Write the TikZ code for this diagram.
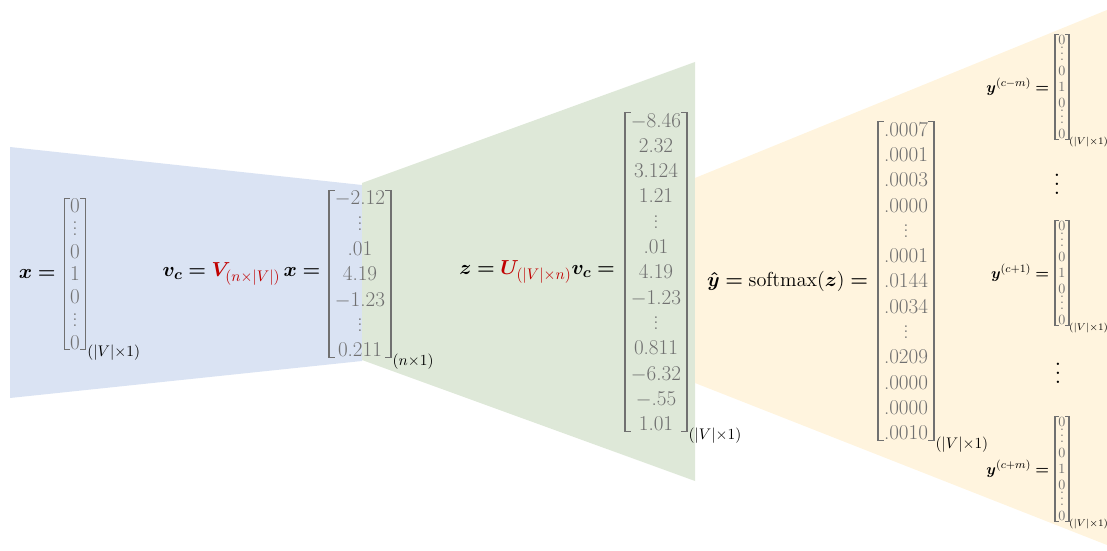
\documentclass[tikz,border=0pt]{standalone}
\usepackage{amsmath}
\usepackage{bm}
\usepackage{graphicx}
\usetikzlibrary{positioning, calc}
\definecolor{inputcolor}{RGB}{218,227,243}
\definecolor{hiddencolor}{RGB}{222,232,216}
\definecolor{outputcolor}{RGB}{255,244,222}
\definecolor{numgray}{RGB}{112,112,112}
\definecolor{weightred}{RGB}{192,0,0}
\newcommand{\vdotrow}{\smash{$\vdots$}}

\begin{document}
\begin{tikzpicture}[
    x=0.025cm, y=-0.025cm,
    vec/.style={align=center, text=numgray, inner xsep=4pt, inner ysep=0pt, font=\fontsize{15}{18}\selectfont},
    smallvec/.style={vec, inner xsep=2.2pt, font=\fontsize{10}{11.2}\selectfont},
    eqlabel/.style={inner sep=0pt, font=\fontsize{15}{18}\selectfont},
    smalllabel/.style={inner sep=0pt, font=\fontsize{11}{13}\selectfont},
    dimlabel/.style={inner sep=0pt, anchor=west, font=\fontsize{11}{13}\selectfont},
    smalldim/.style={dimlabel, font=\fontsize{7}{9}\selectfont},
    bigdots/.style={inner sep=0pt, anchor=base},
    bracket/.style={draw=numgray, line width=0.9pt},
    node distance=5pt
]
    \useasboundingbox (0,0) rectangle (1107,551);

    % Layer backgrounds
    \fill[inputcolor] (10,147) -- (362,185) -- (362,361) -- (10,398) -- cycle;
    \fill[hiddencolor] (362,183) -- (695,62) -- (695,481) -- (362,360) -- cycle;
    \fill[outputcolor] (695,178) -- (1107,10) -- (1107,545) -- (695,383) -- cycle;

    % Input one-hot vector
    \node[vec, font=\fontsize{15}{16.2}\selectfont] (xv) at (75,274) {0\\\vdotrow\\0\\1\\0\\\vdotrow\\0};
    \node[eqlabel, left=6pt of xv] (xlabel) {$\bm{x} \bm{=}$};
    \node[dimlabel] (xdim) at ([xshift=1pt, yshift=-2pt]xv.south east) {$(|V|{\times}1)$};

    % Hidden vector
    \node[vec] (vcv) at (360,274) {$-$2.12\\\vdotrow\\.01\\4.19\\$-$1.23\\\vdotrow\\0.211};
    \node[eqlabel, left=6pt of vcv] (vclabel) {$\bm{v}_{\bm{c}} \bm{=} \textcolor{weightred}{\bm{V}_{(n{\times}|V|)}}\, \bm{x} \bm{=}$};
    \node[dimlabel] (vcdim) at ([xshift=1pt, yshift=-3pt]vcv.south east) {$(n{\times}1)$};

    % Scores
    \node[vec] (zv) at (656,272) {$-$8.46\\2.32\\3.124\\1.21\\\vdotrow\\.01\\4.19\\$-$1.23\\\vdotrow\\0.811\\$-$6.32\\$-$.55\\1.01};
    \node[eqlabel, left=7pt of zv] (zlabel) {$\bm{z} \bm{=} \textcolor{weightred}{\bm{U}_{(|V|{\times}n)}} \bm{v}_{\bm{c}} \bm{=}$};
    \node[dimlabel] (zdim) at ([xshift=1pt, yshift=-3pt]zv.south east) {$(|V|{\times}1)$};

    % Softmax output
    \node[vec] (yhv) at (906,281) {.0007\\.0001\\.0003\\.0000\\\vdotrow\\.0001\\.0144\\.0034\\\vdotrow\\.0209\\.0000\\.0000\\.0010};
    \node[eqlabel, left=7pt of yhv] (yhlabel) {$\bm{\hat{y}} \bm{=} \mathrm{softmax}(\bm{z}) \bm{=}$};
    \node[dimlabel] (yhdim) at ([xshift=1pt, yshift=-3pt]yhv.south east) {$(|V|{\times}1)$};

    % Context words
    \node[smallvec] (ymv) at (1062,87) {0\\\vdotrow\\0\\1\\0\\\vdotrow\\0};
    \node[smalllabel, left=4pt of ymv] (ymlabel) {$\bm{y}^{(c-m)} \bm{=}$};
    \node[smalldim] (ymdim) at ([yshift=-2pt]ymv.south east) {$(|V|{\times}1)$};

    \node[bigdots] (dotsa) at (1057,195) {\scalebox{1.6}{\boldmath$\vdots$}};

    \node[smallvec] (yov) at (1062,273) {0\\\vdotrow\\0\\1\\0\\\vdotrow\\0};
    \node[smalllabel, left=4pt of yov] (yolabel) {$\bm{y}^{(c+1)} \bm{=}$};
    \node[smalldim] (yodim) at ([yshift=-2pt]yov.south east) {$(|V|{\times}1)$};

    \node[bigdots] (dotsb) at (1058,383) {\scalebox{1.6}{\boldmath$\vdots$}};

    \node[smallvec] (ypv) at (1062,469) {0\\\vdotrow\\0\\1\\0\\\vdotrow\\0};
    \node[smalllabel, left=4pt of ypv] (yplabel) {$\bm{y}^{(c+m)} \bm{=}$};
    \node[smalldim] (ypdim) at ([yshift=-2pt]ypv.south east) {$(|V|{\times}1)$};

    % Brackets
    \foreach \v/\t in {xv/4pt, vcv/4pt, zv/4pt, yhv/4pt, ymv/2.5pt, yov/2.5pt, ypv/2.5pt} {
        \draw[bracket] ($(\v.north west)+(\t,0)$) -- (\v.north west) -- (\v.south west) -- ++(\t,0);
        \draw[bracket] ($(\v.north east)-(\t,0)$) -- (\v.north east) -- (\v.south east) -- ++(-\t,0);
    }

\end{tikzpicture}
\end{document}
